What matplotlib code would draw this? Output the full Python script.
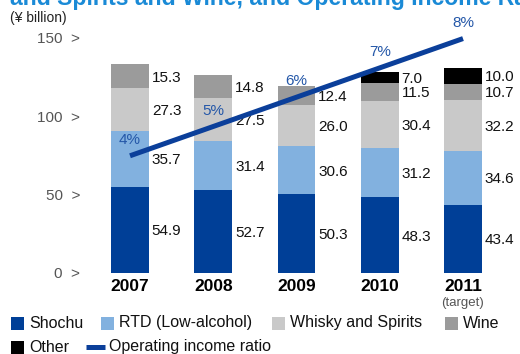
import numpy as np
import matplotlib.pyplot as plt
from matplotlib.patches import Rectangle
from matplotlib.lines import Line2D

plt.rcParams['font.family'] = ['Liberation Sans', 'DejaVu Sans']

# Sales by category (¥ billion) and operating income ratio (%)
years = ['2007', '2008', '2009', '2010', '2011']
shochu = [54.9, 52.7, 50.3, 48.3, 43.4]
rtd = [35.7, 31.4, 30.6, 31.2, 34.6]
whisky = [27.3, 27.5, 26.0, 30.4, 32.2]
wine = [15.3, 14.8, 12.4, 11.5, 10.7]
other = [0, 0, 0, 7.0, 10.0]
op_ratio = [4, 5, 6, 7, 8]

series = [('Shochu', shochu, '#003f97'),
          ('RTD (Low-alcohol)', rtd, '#82b1df'),
          ('Whisky and Spirits', whisky, '#c9c9c9'),
          ('Wine', wine, '#9b9b9b'),
          ('Other', other, '#000000')]
line_color = '#0b3f9a'
pct_color = '#2457a8'

W, H = 520, 354
fig = plt.figure(figsize=(W / 100, H / 100), dpi=100)

def fx(px):
    return px / W

def fy(py):
    return 1 - py / H

ax_left, ax_right, ax_bottom = 90, 510, 273
ymax = 160
px_per_unit = 1.567
ax = fig.add_axes([fx(ax_left), fy(ax_bottom), fx(ax_right - ax_left),
                   ymax * px_per_unit / H])

x = np.arange(len(years))
bar_w = 0.456
bottom = np.zeros(len(years))
for name, vals, col in series:
    vals = np.array(vals, dtype=float)
    ax.bar(x, vals, bar_w, bottom=bottom, color=col, linewidth=0)
    for i, v in enumerate(vals):
        if v > 0:
            ax.annotate(f'{v:.1f}', (x[i] + bar_w / 2, bottom[i] + v / 2),
                        xytext=(2, -1), textcoords='offset points',
                        ha='left', va='center', fontsize=11, color='#111111')
    bottom += vals

ax.set_xlim(-40 / 83.25, (ax_right - 130) / 83.25)
ax.set_ylim(0, ymax)
for s in ax.spines.values():
    s.set_visible(False)

ax.set_yticks([0, 50, 100, 150])
ax.set_yticklabels(['0  >', '50  >', '100  >', '150  >'])
ax.tick_params(axis='y', length=0, pad=7, labelsize=11, labelcolor='#555555')
ax.set_xticks(x)
ax.set_xticklabels(years, fontweight='bold', fontsize=12.5)
ax.tick_params(axis='x', length=0, pad=4)
ax.annotate('(target)', (x[-1], 0), xytext=(0, -21.5), textcoords='offset points',
            ha='center', va='center', fontsize=9.5, color='#555555')

# Operating income ratio on a secondary scale
ax2 = ax.twinx()
ax2.set_ylim(0, ymax / 18.7)
ax2.axis('off')
ax2.plot(x, op_ratio, color=line_color, linewidth=3.6, solid_capstyle='butt')
for i, r in enumerate(op_ratio):
    ax2.annotate(f'{r}%', (x[i], r), xytext=(0, 11.5), textcoords='offset points',
                 ha='center', va='center', fontsize=11, color=pct_color)

# Heading and unit
fig.text(fx(10), fy(5.5), 'and Spirits and Wine, and Operating Income Ratio',
         fontsize=16.6, fontweight='bold', color='#1a8ad6', va='baseline')
fig.text(fx(10), fy(18), '(¥ billion)', fontsize=10, color='#222222', va='center')

# Legend, laid out in two flowing rows
legend_items = [(11, 323, 'Shochu', series[0][2], 'box'),
                (101, 323, 'RTD (Low-alcohol)', series[1][2], 'box'),
                (272, 323, 'Whisky and Spirits', series[2][2], 'box'),
                (445, 323, 'Wine', series[3][2], 'box'),
                (11, 347, 'Other', series[4][2], 'box'),
                (86, 347, 'Operating income ratio', line_color, 'line')]
for lx, ly, label, col, kind in legend_items:
    if kind == 'box':
        fig.add_artist(Rectangle((fx(lx), fy(ly + 6.5)), fx(12.5), 13 / H,
                                 transform=fig.transFigure, color=col, lw=0))
        tx = lx + 18
    else:
        fig.add_artist(Line2D([fx(lx), fx(lx + 19)], [fy(ly), fy(ly)],
                              transform=fig.transFigure, color=col, lw=3.6,
                              solid_capstyle='butt'))
        tx = lx + 23
    fig.text(fx(tx), fy(ly), label, fontsize=11.5, color='#111111', va='center')

fig.savefig('out.png', dpi=100)
